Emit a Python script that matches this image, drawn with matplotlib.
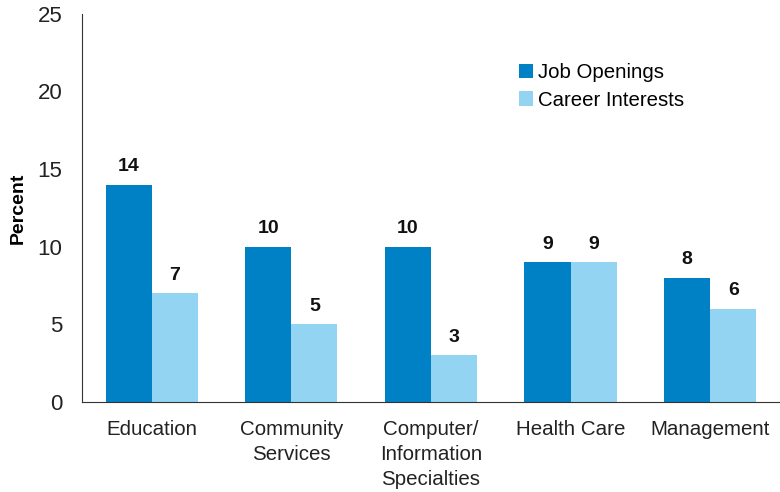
import numpy as np
from matplotlib import pyplot as plt

plt.rcParams['font.family'] = ['Liberation Sans', 'DejaVu Sans']

categories = ['Education', 'Community\nServices', 'Computer/\nInformation\nSpecialties', 'Health Care', 'Management']
job_openings = [14, 10, 10, 9, 8]
career_interests = [7, 5, 3, 9, 6]

dark = '#0081c6'
light = '#93d4f3'

fig = plt.figure(figsize=(7.8, 4.92), dpi=100)
ax = fig.add_axes([0.105, 0.183, 0.895, 0.789])

x = np.arange(len(categories))
w = 0.33
b1 = ax.bar(x - w/2, job_openings, w, color=dark, label='Job Openings')
b2 = ax.bar(x + w/2, career_interests, w, color=light, label='Career Interests')

for bars, vals in ((b1, job_openings), (b2, career_interests)):
    for r, v in zip(bars, vals):
        ax.text(r.get_x() + r.get_width()/2, v + 0.6, str(v), ha='center', va='bottom',
                fontsize=14, fontweight='bold', color='#111111')

ax.set_xlim(-0.5, 4.5)
ax.set_ylim(0, 25)
ax.set_yticks([0, 5, 10, 15, 20, 25])
ax.set_xticks(x)
ax.set_xticklabels(categories, fontsize=14.8, color='#222222', linespacing=1.4, va='top')
ax.tick_params(axis='y', length=0, labelsize=16, colors='#222222', pad=14)
ax.tick_params(axis='x', length=0, pad=13)
for s in ('top', 'right'):
    ax.spines[s].set_visible(False)
ax.spines['left'].set_color('#333333')
ax.spines['bottom'].set_color('#333333')
ax.spines['left'].set_linewidth(0.8)
ax.spines['bottom'].set_linewidth(0.8)
ax.set_ylabel('Percent', fontsize=14, fontweight='bold', labelpad=8)

ax.legend(loc='upper left', bbox_to_anchor=(0.6, 0.92), frameon=False, fontsize=14.7,
          handlelength=0.7, handleheight=0.7, handletextpad=0.2, labelspacing=0.42)

fig.savefig('out.png', dpi=100)
